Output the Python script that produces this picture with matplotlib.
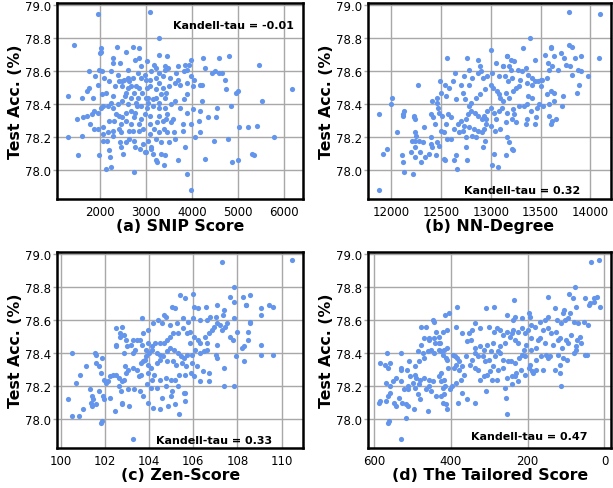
import matplotlib
matplotlib.use("Agg")
import matplotlib.pyplot as plt

# ---------------- data ----------------
snip_x = [1950,3090,3290,1440,2020,2030,2000,2370,2710,2850,
 2570,3280,3460,4240,4590,4800,2290,2440,2290,2760,
 2860,3020,3970,5450,3170,3220,3420,3690,3850,3930,
 4280,4500,4590,4650,4430,4710,1770,1990,2040,2250,
 2600,2890,2830,3120,3410,3480,3830,3900,1900,2090,
 2390,2520,2610,2730,2900,3000,3080,3220,3370,3530,
 3690,3980,4040,4170,4220,1970,1770,1730,1320,1610,
 1850,2040,2130,2280,2410,2470,2490,2600,2680,2790,
 3020,3080,3280,3370,3510,3620,3730,3880,4020,4730,
 4950,5000,6170,5510,4210,3880,3820,3620,3330,3220,
 3050,2830,2680,2550,2250,2170,2060,1880,1720,1640,
 1510,1820,1950,2020,2350,2420,2570,2680,2770,2890,
 3020,3150,3280,3420,3550,3730,3880,4010,4170,4350,
 4530,4550,4840,1780,1880,1950,2060,2200,2310,2460,
 2570,2680,2860,3080,3240,3370,3440,3550,3800,3970,
 4150,5020,5220,5400,1320,1620,2060,2170,2280,2460,
 2640,2710,2860,3090,3290,3450,3600,3800,4060,4170,
 4470,4770,5780,2060,2150,2440,2570,2750,2930,3040,
 3110,3330,3510,3640,3840,2460,2760,2870,2970,3120,
 2200,2510,3000,3160,3320,3420,1520,1990,2230,3220,
 3240,3390,3690,4290,4860,4990,5290,5350,2130,2250,
 2750,3900,3980,
 2640,2750,2920,3000,3150,3290,3420,2470,2600,2800,
 2970,3080,3290,3450,3580,2390,2280,2490,2750,2890,
 2410,2930,3180,3400,2570,2860,3220,3440,2790,3040,
 2200,2330,2970,3290,3660,2280,2640,3220]
snip_y = [78.95,78.96,78.80,78.76,78.74,78.72,78.71,78.75,78.75,78.74,
 78.72,78.70,78.69,78.68,78.68,78.69,78.68,78.65,78.65,78.67,
 78.68,78.66,78.67,78.64,78.64,78.62,78.63,78.63,78.64,78.64,
 78.62,78.60,78.59,78.59,78.59,78.55,78.60,78.61,78.60,78.60,
 78.61,78.63,78.59,78.60,78.61,78.62,78.60,78.61,78.57,78.56,
 78.58,78.55,78.56,78.56,78.56,78.55,78.55,78.56,78.57,78.56,
 78.55,78.57,78.55,78.52,78.52,78.52,78.50,78.48,78.45,78.44,
 78.44,78.46,78.47,78.45,78.54,78.54,78.51,78.50,78.51,78.51,
 78.50,78.51,78.53,78.50,78.51,78.53,78.52,78.53,78.51,78.49,
 78.47,78.48,78.49,78.42,78.42,78.46,78.43,78.42,78.46,78.44,
 78.44,78.44,78.44,78.45,78.41,78.39,78.39,78.36,78.33,78.32,
 78.31,78.34,78.35,78.38,78.34,78.33,78.35,78.36,78.35,78.39,
 78.38,78.39,78.38,78.38,78.40,78.38,78.35,78.37,78.36,78.32,
 78.32,78.38,78.39,78.28,78.25,78.25,78.26,78.30,78.30,78.28,
 78.30,78.28,78.28,78.28,78.29,78.30,78.31,78.29,78.28,78.28,
 78.30,78.26,78.26,78.27,78.20,78.21,78.22,78.23,78.24,78.23,
 78.24,78.24,78.24,78.22,78.23,78.23,78.23,78.24,78.20,78.23,
 78.18,78.19,78.20,78.18,78.18,78.17,78.17,78.18,78.16,78.18,
 78.14,78.17,78.17,78.19,78.14,78.14,78.14,78.13,78.11,78.13,
 78.12,78.10,78.11,78.10,78.10,78.09,78.09,78.09,78.08,78.06,
 78.05,78.03,78.06,78.07,78.05,78.06,78.10,78.09,78.01,78.02,
 77.99,77.98,77.88,
 78.54,78.47,78.47,78.44,78.43,78.41,78.44,78.42,78.40,78.39,
 78.34,78.33,78.33,78.34,78.31,78.40,78.38,78.32,78.32,78.31,
 78.25,78.25,78.25,78.25,78.47,78.50,78.49,78.47,78.41,78.41,
 78.54,78.51,78.58,78.59,78.59,78.21,78.19,78.19]

nnd_x = [13790,14100,13390,13320,13600,13600,13790,13820,13540,13710,
 13640,13740,13850,13910,14090,13000,13440,13160,12760,12870,
 12560,12780,12890,13050,13120,13160,13200,13230,13180,13200,
 13120,13270,13310,13350,13370,13410,13440,13500,13510,13560,
 13580,13620,13680,13570,13760,13800,13880,13910,13980,13820,
 13890,13870,13730,13640,13610,13560,13500,13470,13410,13360,
 13290,13280,13250,13210,13170,13140,13080,13010,12960,12920,
 12870,12900,12810,12780,12730,12700,12640,12620,12580,12540,
 12490,12500,12550,12650,12720,12740,12800,12850,12890,12940,
 13000,13020,13060,13080,13090,13120,13150,13180,13220,13220,
 13230,13280,13330,13360,13370,13410,13460,13480,13520,13580,
 13640,13720,13580,13610,13660,13620,13360,13350,13400,13440,
 13450,13250,13210,13160,13110,13080,13050,13030,13000,12960,
 12930,12910,12870,12840,12800,12780,12770,12750,12700,12670,
 12630,12680,12720,12730,12780,12830,12870,12910,12950,12930,
 12950,13000,13040,13090,13150,13160,13180,13210,13220,13150,
 13030,13070,13010,12940,12920,12850,12810,12750,12750,12760,
 12650,12630,12660,12600,12560,12530,12500,12550,12600,12570,
 12510,12470,12480,12460,12460,12410,12400,12420,12440,12400,
 12400,12410,12460,12480,12450,12530,12540,12380,12340,12290,
 12320,12300,12240,12200,12240,12240,12280,12330,12240,12250,
 12210,12230,12230,12240,12130,12120,12120,12010,12000,11880,
 12060,11960,11920,12110,12120,12220,12130,11880,12270]
nnd_y = [78.96,78.95,78.80,78.74,78.75,78.74,78.76,78.75,78.70,78.71,
 78.69,78.68,78.68,78.69,78.68,78.73,78.67,78.69,78.68,78.67,
 78.68,78.61,78.63,78.65,78.63,78.69,78.67,78.66,78.63,78.61,
 78.63,78.61,78.60,78.62,78.58,78.56,78.54,78.55,78.55,78.56,
 78.61,78.63,78.61,78.65,78.64,78.63,78.61,78.60,78.57,78.58,
 78.52,78.47,78.45,78.47,78.48,78.46,78.51,78.54,78.52,78.53,
 78.55,78.51,78.50,78.56,78.54,78.57,78.57,78.59,78.57,78.56,
 78.59,78.60,78.56,78.52,78.57,78.52,78.59,78.54,78.50,78.52,
 78.54,78.47,78.45,78.43,78.47,78.43,78.41,78.44,78.46,78.49,
 78.52,78.50,78.48,78.46,78.44,78.42,78.47,78.44,78.48,78.37,
 78.34,78.39,78.39,78.40,78.45,78.44,78.38,78.40,78.39,78.40,
 78.42,78.39,78.33,78.28,78.31,78.30,78.31,78.28,78.36,78.28,
 78.32,78.29,78.31,78.35,78.38,78.36,78.31,78.35,78.38,78.36,
 78.33,78.31,78.33,78.35,78.36,78.39,78.34,78.31,78.30,78.28,
 78.25,78.23,78.24,78.27,78.26,78.25,78.24,78.23,78.28,78.25,
 78.31,78.27,78.24,78.25,78.29,78.20,78.17,78.13,78.12,78.09,
 78.10,78.02,78.03,78.18,78.14,78.20,78.21,78.20,78.14,78.06,
 78.09,78.06,78.01,78.19,78.19,78.23,78.24,78.28,78.32,78.34,
 78.33,78.38,78.35,78.41,78.44,78.42,78.34,78.32,78.28,78.20,
 78.16,78.14,78.17,78.15,78.09,78.07,78.06,78.10,78.08,78.11,
 78.17,78.05,78.08,78.11,78.14,78.18,78.18,78.26,78.23,78.21,
 78.18,78.32,78.33,78.31,78.36,78.34,78.33,78.44,78.40,78.34,
 78.23,78.13,78.10,78.09,78.05,77.98,77.99,77.88,78.52]

zen_x = [107.29,110.48,107.86,105.41,105.65,105.98,107.68,107.83,108.26,108.59,
 108.41,108.38,109.45,109.61,109.06,105.05,105.18,106.02,106.20,106.59,
 107.08,107.41,107.33,107.02,106.77,106.62,106.32,105.98,105.79,105.56,
 105.26,104.95,104.70,104.77,104.39,103.68,104.58,104.20,103.95,103.71,
 103.44,103.29,103.59,102.98,103.18,103.03,102.86,102.76,102.53,102.68,
 102.71,102.53,102.50,102.86,103.26,103.68,103.97,104.12,104.27,104.50,
 104.68,104.80,104.95,105.11,105.33,105.56,105.71,105.86,106.02,106.23,
 106.32,106.56,106.71,106.85,106.95,107.08,107.23,107.32,107.44,107.53,
 107.83,107.79,108.21,108.29,108.47,108.47,108.56,109.06,109.05,109.62,
 108.29,107.92,107.39,107.08,107.02,106.62,106.47,106.29,106.09,105.94,
 105.71,105.59,105.44,105.33,105.14,104.95,104.83,104.65,104.50,104.35,
 104.12,104.02,103.86,103.82,103.74,103.64,103.94,104.08,104.35,104.50,
 104.80,105.08,105.23,105.48,105.68,105.94,106.17,106.44,106.70,106.70,
 106.32,106.02,105.89,105.65,105.36,105.18,105.00,104.77,104.50,104.21,
 104.12,103.97,103.62,103.56,103.44,103.29,103.06,102.91,102.98,102.89,
 102.76,102.65,102.50,102.38,102.23,102.15,101.95,101.85,101.74,101.62,
 101.59,101.55,101.89,101.17,100.86,100.71,100.52,102.08,102.65,102.73,
 103.06,103.32,103.59,103.92,104.08,104.38,104.76,105.03,105.33,105.64,
 102.23,101.92,101.98,101.47,101.74,101.32,101.42,101.36,101.59,101.44,
 101.02,100.82,100.52,100.36,101.89,101.82,102.45,102.76,102.80,103.11,
 103.71,103.97,104.20,104.50,104.58,104.88,104.98,105.18,105.38,105.64,
 105.61,107.39,107.86,103.29,109.05,108.59,107.98,107.68,106.62,107.08,
 105.86,103.89,103.36]
zen_y = [78.95,78.96,78.80,78.75,78.73,78.76,78.74,78.71,78.74,78.75,
 78.69,78.69,78.69,78.68,78.63,78.68,78.67,78.68,78.67,78.68,
 78.69,78.66,78.63,78.62,78.62,78.60,78.60,78.61,78.59,78.61,
 78.58,78.57,78.63,78.62,78.60,78.61,78.58,78.58,78.54,78.52,
 78.48,78.48,78.48,78.48,78.45,78.44,78.51,78.56,78.55,78.52,
 78.50,78.45,78.44,78.40,78.40,78.45,78.46,78.44,78.46,78.46,
 78.46,78.48,78.50,78.52,78.52,78.55,78.52,78.53,78.50,78.48,
 78.46,78.50,78.52,78.54,78.56,78.58,78.57,78.54,78.56,78.58,
 78.61,78.48,78.43,78.44,78.48,78.53,78.59,78.45,78.39,78.39,
 78.35,78.38,78.31,78.37,78.39,78.42,78.41,78.40,78.42,78.39,
 78.39,78.37,78.38,78.40,78.42,78.43,78.41,78.38,78.39,78.40,
 78.42,78.40,78.38,78.36,78.35,78.34,78.33,78.31,78.34,78.36,
 78.35,78.35,78.33,78.34,78.32,78.34,78.32,78.29,78.28,78.23,
 78.23,78.26,78.28,78.27,78.27,78.24,78.24,78.25,78.24,78.27,
 78.24,78.28,78.27,78.26,78.30,78.31,78.30,78.32,78.28,78.24,
 78.23,78.25,78.27,78.27,78.26,78.23,78.24,78.28,78.32,78.34,
 78.39,78.40,78.37,78.32,78.27,78.22,78.40,78.22,78.20,78.17,
 78.18,78.18,78.17,78.21,78.19,78.19,78.20,78.17,78.20,78.16,
 78.13,78.14,78.12,78.12,78.17,78.18,78.14,78.10,78.09,78.08,
 78.06,78.02,78.02,78.12,77.99,77.98,78.05,78.10,78.09,78.08,
 78.14,78.10,78.07,78.06,78.13,78.08,78.14,78.09,78.03,78.11,
 78.16,78.20,78.20,77.88,78.67,78.58,78.53,78.50,78.46,78.45,
 78.46,78.42,78.42]

tail_x = [35,13,76,236,147,93,82,52,28,20,
 38,27,11,40,75,90,106,108,129,124,
 112,102,95,80,70,54,44,147,155,168,
 181,190,197,194,215,233,237,254,288,308,
 383,336,346,325,300,288,280,271,265,254,
 241,237,224,214,207,198,190,173,160,147,
 138,125,117,100,87,71,63,74,95,111,
 121,134,155,168,177,190,203,209,224,233,
 245,258,271,277,291,306,314,323,337,348,
 357,353,370,387,409,421,439,443,430,432,
 440,456,458,469,477,464,443,447,404,415,
 427,411,417,394,389,383,379,387,391,379,
 370,361,346,337,329,317,312,301,296,284,
 271,265,252,243,233,222,215,207,194,185,
 188,177,164,151,142,121,108,97,80,74,
 52,45,61,117,128,117,114,147,160,177,
 196,207,218,231,241,254,263,276,290,297,
 306,314,323,329,337,350,366,374,387,396,
 403,406,409,413,421,426,432,443,452,460,
 473,477,470,482,494,509,514,529,529,507,
 494,490,479,469,456,446,426,432,426,417,
 415,421,456,452,439,426,421,413,409,417,
 464,482,494,499,512,512,523,529,542,550,
 559,569,557,563,569,585,586,547,542,535,
 526,516,512,497,516,560,563,585,570,559,
 563,567,529,486,479,460,380,370,357,337,
 308,293,280,258,257,254,234,226,240,529,
 486]
tail_y = [78.95,78.96,78.80,78.72,78.74,78.76,78.73,78.73,78.73,78.74,
 78.70,78.71,78.68,78.69,78.68,78.64,78.66,78.64,78.67,78.60,
 78.58,78.60,78.61,78.59,78.58,78.59,78.57,78.62,78.60,78.59,
 78.56,78.57,78.64,78.62,78.61,78.62,78.60,78.63,78.68,78.67,
 78.68,78.58,78.54,78.55,78.56,78.53,78.55,78.54,78.51,78.53,
 78.52,78.54,78.53,78.55,78.52,78.54,78.49,78.48,78.54,78.55,
 78.52,78.53,78.49,78.48,78.51,78.48,78.50,78.44,78.46,78.43,
 78.48,78.45,78.46,78.49,78.43,78.42,78.45,78.42,78.46,78.48,
 78.50,78.46,78.44,78.41,78.46,78.45,78.42,78.44,78.43,78.48,
 78.47,78.52,78.52,78.56,78.54,78.53,78.53,78.49,78.50,78.46,
 78.46,78.48,78.49,78.49,78.56,78.56,78.59,78.60,78.64,78.63,
 78.46,78.43,78.42,78.39,78.38,78.37,78.35,78.33,78.31,78.30,
 78.32,78.38,78.36,78.40,78.38,78.38,78.35,78.36,78.41,78.38,
 78.40,78.36,78.35,78.35,78.34,78.37,78.39,78.38,78.33,78.28,
 78.29,78.36,78.38,78.39,78.38,78.39,78.37,78.36,78.40,78.42,
 78.39,78.39,78.46,78.33,78.30,78.28,78.20,78.37,78.30,78.30,
 78.31,78.27,78.30,78.28,78.26,78.25,78.31,78.30,78.32,78.29,
 78.27,78.26,78.24,78.30,78.31,78.33,78.27,78.24,78.22,78.20,
 78.18,78.31,78.36,78.37,78.39,78.41,78.42,78.40,78.42,78.41,
 78.40,78.45,78.37,78.35,78.32,78.35,78.30,78.31,78.30,78.26,
 78.27,78.25,78.24,78.25,78.24,78.23,78.28,78.26,78.23,78.24,
 78.20,78.19,78.20,78.17,78.14,78.14,78.10,78.09,78.06,78.15,
 78.18,78.21,78.19,78.22,78.20,78.18,78.18,78.23,78.25,78.23,
 78.20,78.22,78.16,78.14,78.11,78.11,78.10,78.10,78.08,78.13,
 78.10,78.09,78.08,78.06,78.01,77.99,77.98,78.34,78.33,78.34,
 78.31,78.40,78.40,78.15,78.12,78.05,78.10,78.16,78.12,78.10,
 78.17,78.24,78.24,78.19,78.13,78.03,78.26,78.23,78.21,77.88,
 78.41]

titles = ["(a) SNIP Score", "(b) NN-Degree", "(c) Zen-Score", "(d) The Tailored Score"]
taus = ["Kandell-tau = -0.01", "Kandell-tau = 0.32", "Kandell-tau = 0.33", "Kandell-tau = 0.47"]
xticks_list = [[2000, 3000, 4000, 5000, 6000],
               [12000, 12500, 13000, 13500, 14000],
               [100, 102, 104, 106, 108, 110],
               [0, 200, 400, 600]]
yticks = [78.0, 78.2, 78.4, 78.6, 78.8, 79.0]
ylabel = "Test Acc. (%)"

# ---------------- figure ----------------
W, H = 613, 489
fig = plt.figure(figsize=(W / 100, H / 100), dpi=100)

rects = [
    [57.3 / W, 1 - 200 / H, 246 / W, 196 / H],
    [368.3 / W, 1 - 200 / H, 243 / W, 196 / H],
    [57.3 / W, 1 - 449 / H, 246 / W, 196.5 / H],
    [368.3 / W, 1 - 449 / H, 243 / W, 196.5 / H],
]
tau_pos = [(0.96, 0.89, 'right'), (0.631, 0.046, 'center'),
           (0.636, 0.042, 'center'), (0.661, 0.061, 'center')]

data = [(snip_x, snip_y), (nnd_x, nnd_y), (zen_x, zen_y), (tail_x, tail_y)]
color = '#6495ED'
gridc = '#a8a8a8'

for i in range(4):
    ax = fig.add_axes(rects[i])
    xs, ys = data[i]
    ax.scatter(xs, ys, s=14, color=color, linewidths=0, zorder=3)
    ax.set_xticks(xticks_list[i])
    ax.set_yticks(yticks)
    ax.set_yticklabels([f"{v:.1f}" for v in yticks])
    if i == 3:
        ax.invert_xaxis()
    ax.grid(True, color=gridc, linewidth=1.0, zorder=0)
    ax.set_axisbelow(True)
    for sp in ax.spines.values():
        sp.set_linewidth(1.8)
        sp.set_color('black')
    ax.tick_params(axis='x', length=0, pad=4, labelsize=8.5)
    ax.tick_params(axis='y', length=3, width=1.0, color=gridc, pad=1.5, labelsize=8.5)
    ax.set_xlabel(titles[i], fontsize=11.3, fontweight='bold', labelpad=0)
    ax.set_ylabel(ylabel, fontsize=11.3, fontweight='bold', labelpad=1.5)
    tx, ty, ha = tau_pos[i]
    ax.text(tx, ty, taus[i], transform=ax.transAxes, ha=ha, va='center',
            fontsize=8, fontweight='bold', zorder=5)

fig.savefig("out.png", dpi=100)
